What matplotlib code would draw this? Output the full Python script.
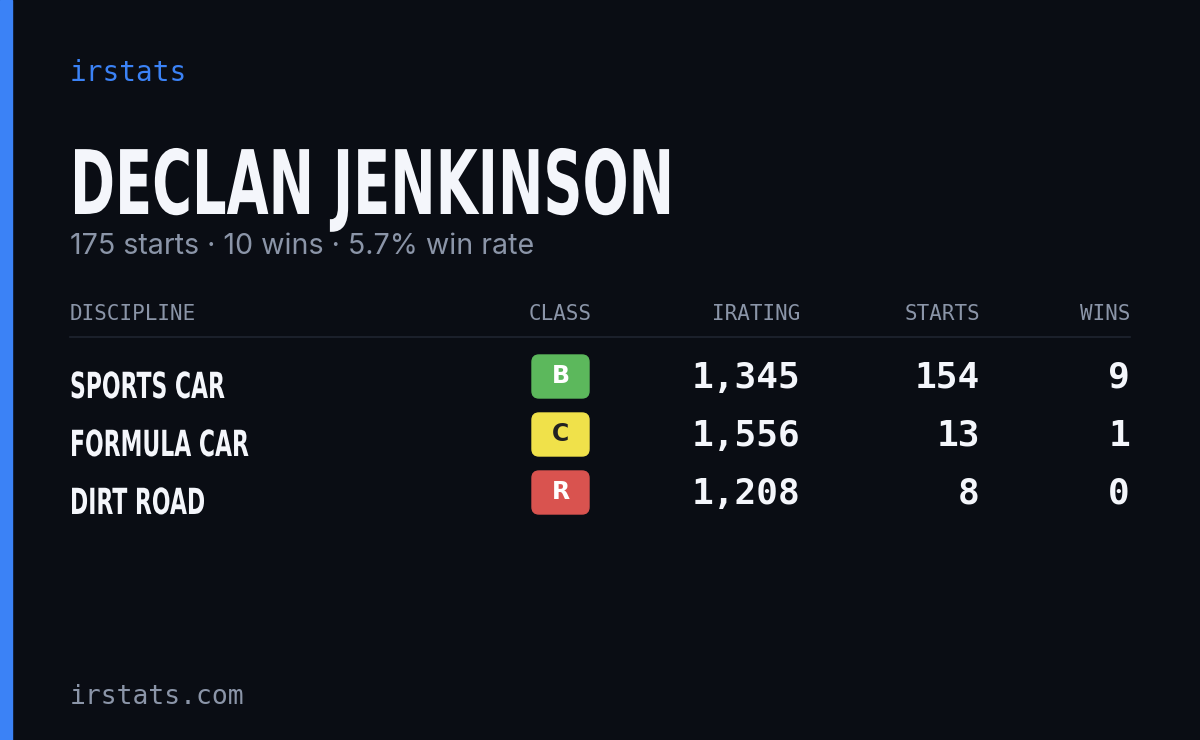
import matplotlib
matplotlib.use('Agg')
import matplotlib.pyplot as plt
from matplotlib.patches import FancyBboxPatch, Rectangle, PathPatch
from matplotlib.textpath import TextPath
from matplotlib.font_manager import FontProperties
from matplotlib.transforms import Affine2D

# data
driver = "DECLAN JENKINSON"
summary = "175 starts · 10 wins · 5.7% win rate"
headers = ["DISCIPLINE", "CLASS", "IRATING", "STARTS", "WINS"]
disciplines = ["SPORTS CAR", "FORMULA CAR", "DIRT ROAD"]
classes = ["B", "C", "R"]
class_colors = ["#5cb85c", "#f0e14a", "#d9534f"]
class_text = ["white", "#222222", "white"]
iratings = [1345, 1556, 1208]
starts = [154, 13, 8]
wins = [9, 1, 0]

BG = "#0a0d14"
GRAY = "#8b95a8"
WHITE = "#f4f6fb"
MONO = "DejaVu Sans Mono"
BOLD = FontProperties(family="DejaVu Sans", weight="bold")

fig = plt.figure(figsize=(12, 7.4), dpi=100, facecolor=BG)
ax = fig.add_axes([0, 0, 1, 1])
ax.set_xlim(0, 1200)
ax.set_ylim(740, 0)
ax.axis('off')


def condensed(x, baseline, s, size, sx):
    # no condensed font installed, so squeeze a bold text path horizontally
    tp = TextPath((0, 0), s, size=size, prop=BOLD)
    tr = Affine2D().scale(sx, -1).translate(x, baseline) + ax.transData
    ax.add_patch(PathPatch(tp, transform=tr, color=WHITE, lw=0))


ax.add_patch(Rectangle((0, 0), 12, 740, color="#3b82f6"))

ax.text(70, 73, "irstats", color="#3b82f6", fontsize=20, family=MONO, va='center')
condensed(70, 214, driver, 89, 0.61)
ax.text(70, 246, summary, color=GRAY, fontsize=20.6, family="Inter", va='center')

col_x = [70, 592, 800, 980, 1130]
col_ha = ['left', 'right', 'right', 'right', 'right']
for h, x, ha in zip(headers, col_x, col_ha):
    ax.text(x, 314, h, color=GRAY, fontsize=15, family=MONO, ha=ha, va='center')
ax.plot([70, 1130], [337, 337], color="#1f2430", lw=1.2)

for i, name in enumerate(disciplines):
    y = 378 + i * 58
    condensed(70, y + 20, name, 36, 0.61)
    ax.add_patch(FancyBboxPatch((532, y - 23), 57, 43,
                                boxstyle="round,pad=0,rounding_size=7",
                                color=class_colors[i]))
    ax.text(560.5, y - 2, classes[i], color=class_text[i], fontsize=17,
            weight='bold', ha='center', va='center')
    ax.text(800, y, f"{iratings[i]:,}", color=WHITE, fontsize=26,
            family=MONO, weight='bold', ha='right', va='center')
    ax.text(980, y, str(starts[i]), color=WHITE, fontsize=26,
            family=MONO, weight='bold', ha='right', va='center')
    ax.text(1130, y, str(wins[i]), color=WHITE, fontsize=26,
            family=MONO, weight='bold', ha='right', va='center')

ax.text(70, 697, "irstats.com", color=GRAY, fontsize=19, family=MONO, va='center')

fig.savefig("out.png", dpi=100, facecolor=BG)
